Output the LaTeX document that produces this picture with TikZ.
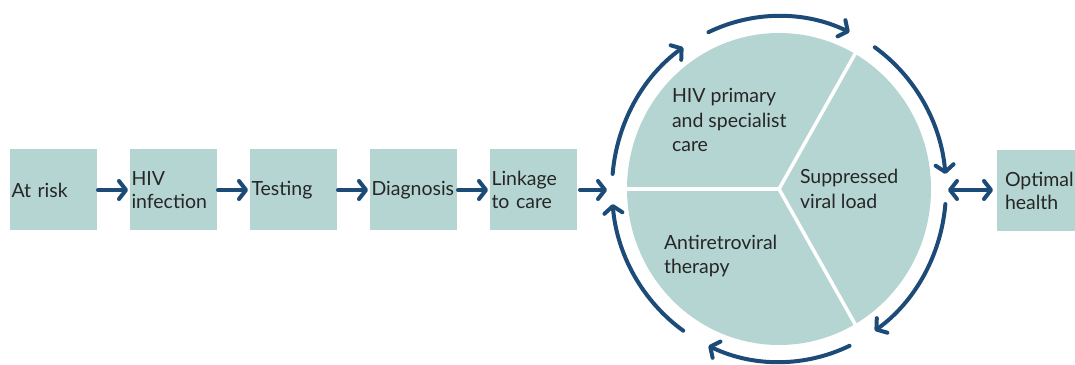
\documentclass[tikz,border=0pt]{standalone}
\usepackage{fontspec}
\setmainfont{Lato}
\usetikzlibrary{positioning,arrows.meta}
\definecolor{cb5d5d2}{RGB}{181,213,210}
\definecolor{c1c4b78}{RGB}{28,75,120}
\definecolor{c262626}{RGB}{38,38,38}

\begin{document}
\begin{tikzpicture}[y=1pt, x=1pt, inner sep=0pt, outer sep=0pt,
  >={Straight Barb[length=7pt,width=18pt,round]},
  stage/.style={fill=cb5d5d2, text=c262626, minimum height=81pt,
    text width=84pt, inner xsep=1.5pt, align=left,
    font=\fontsize{19.5}{23.5}\selectfont},
  phase/.style={text=c262626, anchor=west, align=left,
    font=\fontsize{19.5}{24.5}\selectfont},
  flow/.style={draw=c1c4b78, line width=4pt, line cap=round, ->},
  cut/.style={draw=white, line width=3.5pt},
  node distance=33pt]
\useasboundingbox (0,0) rectangle (1075,364);

% stages of the cascade
\node[stage] (risk) at (53.5,174) {At risk};
\node[stage, right=of risk] (infection) {HIV\\infection};
\node[stage, right=of infection] (testing) {Testing};
\node[stage, right=of testing] (diagnosis) {Diagnosis};
\node[stage, right=of diagnosis] (linkage) {Linkage\\to care};
\node[stage, anchor=west, text width=72pt, inner xsep=8pt] (health)
  at (997,173) {Optimal\\health};

% the care cycle
\coordinate (hub) at (779,175);
\path[fill=cb5d5d2] (hub) ellipse[x radius=152, y radius=156];
\coordinate (rimW) at ([shift={(180:156 and 160)}]hub);
\coordinate (rimNE) at ([shift={(60:156 and 160)}]hub);
\coordinate (rimSE) at ([shift={(-60:156 and 160)}]hub);
\path[cut] (hub) -- (rimW);
\path[cut] (hub) -- (rimNE);
\path[cut] (hub) -- (rimSE);
\node[phase] (care) at (672,244) {HIV primary\\and specialist\\care};
\node[phase] (load) at (800,175) {Suppressed\\viral load};
\node[phase] (therapy) at (664,108) {Antiretroviral\\therapy};

% arrows round the cycle
\draw[flow] ([shift={(175:167 and 173)}]hub) arc[start angle=175, end angle=125, x radius=167, y radius=173];
\draw[flow] ([shift={(115:167 and 173)}]hub) arc[start angle=115, end angle=65, x radius=167, y radius=173];
\draw[flow] ([shift={(55:167 and 173)}]hub) arc[start angle=55, end angle=5, x radius=167, y radius=173];
\draw[flow] ([shift={(-5:167 and 173)}]hub) arc[start angle=-5, end angle=-55, x radius=167, y radius=173];
\draw[flow] ([shift={(-65:167 and 173)}]hub) arc[start angle=-65, end angle=-115, x radius=167, y radius=173];
\draw[flow] ([shift={(-125:167 and 173)}]hub) arc[start angle=-125, end angle=-175, x radius=167, y radius=173];

% connectors
\coordinate (gapW) at (607,174);
\coordinate (gapE) at (948,174);
\draw[flow, shorten <=1pt, shorten >=2pt] (risk) -- (infection);
\draw[flow, shorten <=1pt, shorten >=2pt] (infection) -- (testing);
\draw[flow, shorten <=1pt, shorten >=2pt] (testing) -- (diagnosis);
\draw[flow, shorten <=1pt, shorten >=2pt] (diagnosis) -- (linkage);
\draw[flow, shorten <=3pt] (linkage) -- (gapW);
\draw[flow, <->, shorten >=4pt] (gapE) -- (health.west |- gapE);
\end{tikzpicture}
\end{document}
